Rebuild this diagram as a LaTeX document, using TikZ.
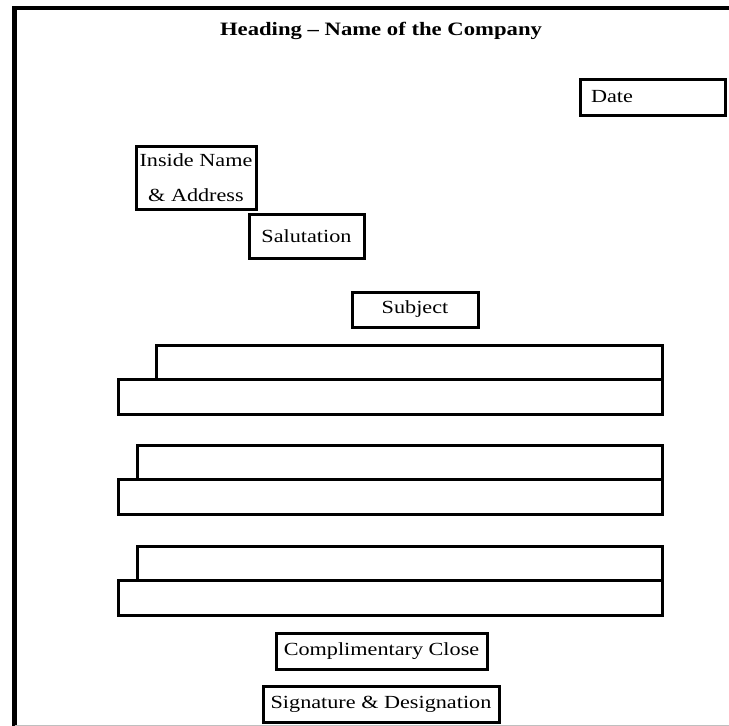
\documentclass[tikz,border=0pt]{standalone}
\usepackage{fontspec}
\setmainfont{Liberation Serif}[FakeStretch=1.2]

\begin{document}
\begin{tikzpicture}[x=1pt,y=-1pt,
    field/.style={draw, line width=3pt, inner sep=2pt, font=\fontsize{18.5}{35}\selectfont},
    para/.style={draw, line width=3pt}]
    \useasboundingbox (0,0) rectangle (729,726);
    % page frame
    \draw[line width=4.5pt] (14.5,726) -- (14.5,8) -- (729,8);
    \draw[gray!50, line width=1pt] (14.5,725) -- (729,725);

    \node[font=\bfseries\fontsize{18.9}{22}\selectfont] (heading) at (381,31) {Heading -- Name of the Company};

    \node[field, minimum width=145, minimum height=36, inner xsep=11, text width=123, align=left] (date) at (652.5,97) {Date};
    \node[field, minimum width=120, minimum height=63, align=center] (inside) at (196,177.5) {Inside Name\\ \& Address};
    \node[field, minimum width=115, minimum height=44] (salutation) at (306.5,236) {Salutation};
    \node[field, minimum width=126, minimum height=35] (subject) at (415,309.5) {Subject};

    % body paragraphs
    \foreach \ptop/\pleft in {345/156, 445/137, 546/137} {
        \draw[para] (\pleft,\ptop) rectangle (662,\ptop+34.5);
        \draw[para] (118,\ptop+34.5) rectangle (662,\ptop+69);
    }

    \node[field, minimum width=211, minimum height=36] (close) at (381.5,651) {Complimentary Close};
    \node[field, minimum width=236, minimum height=36] (signature) at (381,704) {Signature \& Designation};
\end{tikzpicture}
\end{document}
